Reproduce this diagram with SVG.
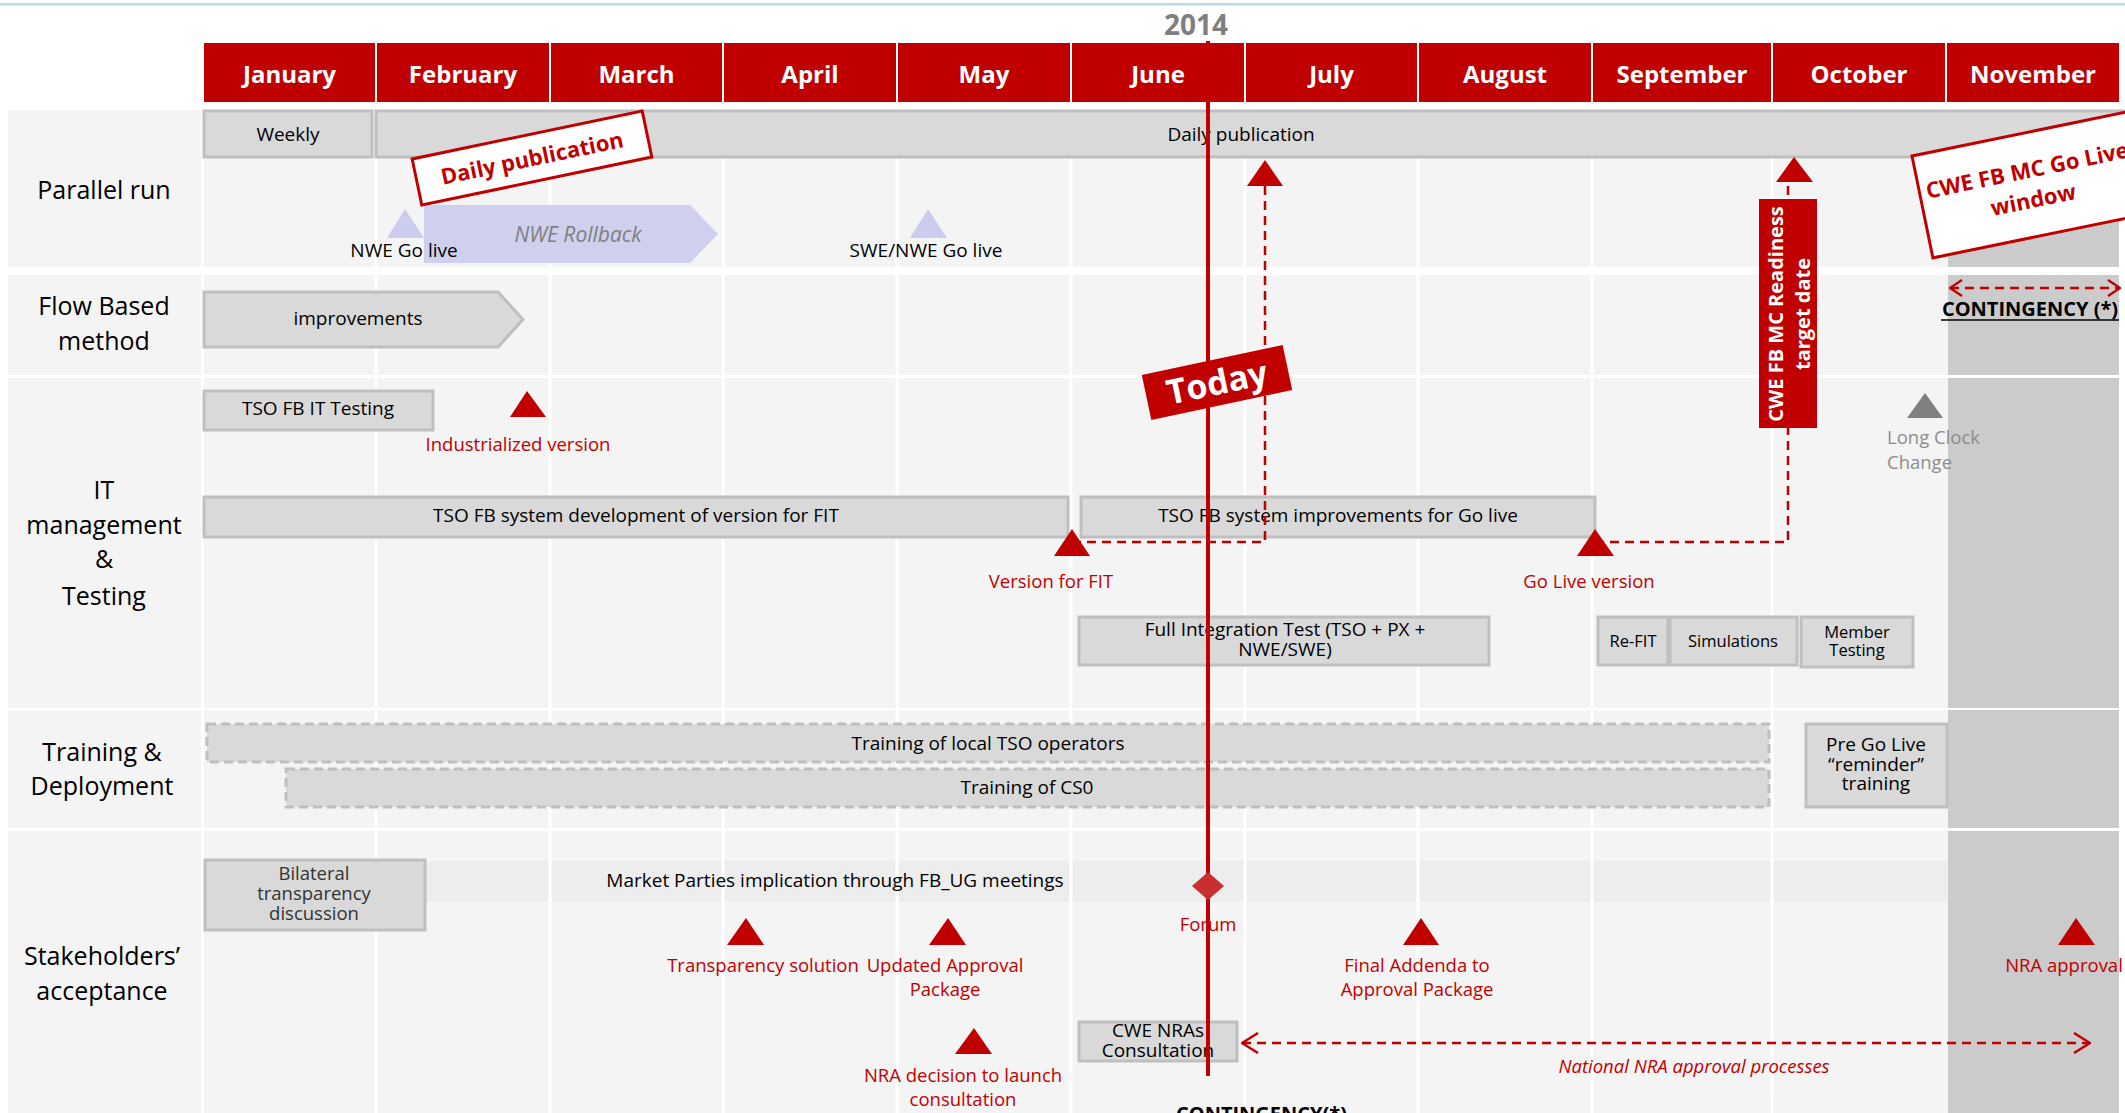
<svg xmlns="http://www.w3.org/2000/svg" width="2125" height="1113" viewBox="0 0 2125 1113">
  <defs>
    <style>
      text { font-family: "Open Sans", "Liberation Sans", sans-serif; }
      .month { fill: #c00000; }
      .mtxt { fill: #ffffff; font-size: 24px; font-weight: 700; text-anchor: middle; }
      .row { fill: #f4f4f4; }
      .grid { stroke: #ffffff; stroke-width: 3; }
      .cont { fill: #cbcbcb; }
      .lbl { font-size: 25px; fill: #000000; text-anchor: middle; }
      .bar { fill: #d9d9d9; stroke: #bfbfbf; stroke-width: 3; }
      .dbar { fill: #d9d9d9; stroke: #bfbfbf; stroke-width: 3; stroke-dasharray: 9 5; }
      .t { font-size: 19px; fill: #000000; text-anchor: middle; }
      .tg { font-size: 18.5px; fill: #333333; text-anchor: middle; }
      .ts { font-size: 16.5px; fill: #000000; text-anchor: middle; }
      .rt { font-size: 18.5px; fill: #c00000; text-anchor: middle; }
      .ms { fill: #c00000; }
      .lav { fill: #ccccee; }
      .dash { fill: none; stroke: #c00000; stroke-width: 2.5; stroke-dasharray: 9 6; }
      .callout { fill: #ffffff; stroke: #c00000; stroke-width: 3; }
      .ctxt { fill: #c00000; font-size: 22px; font-weight: 700; text-anchor: middle; }
      .bold { font-size: 20px; font-weight: 700; fill: #000000; text-anchor: middle; }
    </style>
    <marker id="chev" viewBox="0 0 18 22" refX="17" refY="11" markerWidth="18" markerHeight="22" markerUnits="userSpaceOnUse" orient="auto-start-reverse">
      <path d="M1,1 L17,11 L1,21" fill="none" stroke="#c00000" stroke-width="2.5"/>
    </marker>
    <marker id="chev-s" viewBox="0 0 14 18" refX="13" refY="9" markerWidth="14" markerHeight="18" markerUnits="userSpaceOnUse" orient="auto-start-reverse">
      <path d="M1,1 L13,9 L1,17" fill="none" stroke="#c00000" stroke-width="2.2"/>
    </marker>
  </defs>

  <rect width="2125" height="1113" fill="#ffffff"/>
  <rect x="0" y="3" width="2125" height="2.5" fill="#bcdde3"/>

  <!-- year and month header -->
  <g id="header">
    <text x="1196" y="35" font-size="28" font-weight="700" fill="#7f7f7f" text-anchor="middle">2014</text>
    <rect class="month" x="204" y="43" width="171" height="59"/>
    <rect class="month" x="377" y="43" width="172" height="59"/>
    <rect class="month" x="551" y="43" width="171" height="59"/>
    <rect class="month" x="724" y="43" width="172" height="59"/>
    <rect class="month" x="898" y="43" width="172" height="59"/>
    <rect class="month" x="1072" y="43" width="172" height="59"/>
    <rect class="month" x="1246" y="43" width="171" height="59"/>
    <rect class="month" x="1419" y="43" width="172" height="59"/>
    <rect class="month" x="1593" y="43" width="178" height="59"/>
    <rect class="month" x="1773" y="43" width="172" height="59"/>
    <rect class="month" x="1947" y="43" width="172" height="59"/>
    <text class="mtxt" x="289.5" y="82.5">January</text>
    <text class="mtxt" x="463" y="82.5">February</text>
    <text class="mtxt" x="636.5" y="82.5">March</text>
    <text class="mtxt" x="810" y="82.5">April</text>
    <text class="mtxt" x="984" y="82.5">May</text>
    <text class="mtxt" x="1158" y="82.5">June</text>
    <text class="mtxt" x="1331.5" y="82.5">July</text>
    <text class="mtxt" x="1505" y="82.5">August</text>
    <text class="mtxt" x="1682" y="82.5">September</text>
    <text class="mtxt" x="1859" y="82.5">October</text>
    <text class="mtxt" x="2033" y="82.5">November</text>
  </g>

  <!-- swimlane backgrounds -->
  <g id="lanes">
    <rect class="row" x="8" y="110" width="2111" height="157"/>
    <rect class="row" x="8" y="275" width="2111" height="100"/>
    <rect class="row" x="8" y="378" width="2111" height="330"/>
    <rect class="row" x="8" y="710" width="2111" height="118"/>
    <rect class="row" x="8" y="831" width="2111" height="282"/>
    <rect x="204" y="861" width="1743" height="41" fill="#ededed"/>
    <rect class="cont" x="1948" y="110" width="171" height="157"/>
    <rect class="cont" x="1948" y="275" width="171" height="100"/>
    <rect class="cont" x="1948" y="378" width="171" height="330"/>
    <rect class="cont" x="1948" y="710" width="171" height="118"/>
    <rect class="cont" x="1948" y="831" width="171" height="282"/>
    <g class="grid">
      <line x1="202.5" y1="110" x2="202.5" y2="1113"/>
      <line x1="376" y1="110" x2="376" y2="1113"/>
      <line x1="550" y1="110" x2="550" y2="1113"/>
      <line x1="723" y1="110" x2="723" y2="1113"/>
      <line x1="897" y1="110" x2="897" y2="1113"/>
      <line x1="1071" y1="110" x2="1071" y2="1113"/>
      <line x1="1245" y1="110" x2="1245" y2="1113"/>
      <line x1="1418" y1="110" x2="1418" y2="1113"/>
      <line x1="1592" y1="110" x2="1592" y2="1113"/>
      <line x1="1772" y1="110" x2="1772" y2="1113"/>
    </g>
  </g>

  <!-- lane titles -->
  <g id="lane-labels">
    <text class="lbl" x="104" y="199">Parallel run</text>
    <text class="lbl" x="104" y="314.5">Flow Based</text>
    <text class="lbl" x="104" y="350">method</text>
    <text class="lbl" x="104" y="499">IT</text>
    <text class="lbl" x="104" y="534">management</text>
    <text class="lbl" x="104" y="568">&amp;</text>
    <text class="lbl" x="104" y="605">Testing</text>
    <text class="lbl" x="102" y="760.5">Training &amp;</text>
    <text class="lbl" x="102" y="795">Deployment</text>
    <text class="lbl" x="102" y="965">Stakeholders’</text>
    <text class="lbl" x="102" y="1000">acceptance</text>
  </g>

  <!-- Parallel run -->
  <g id="weekly">
    <rect class="bar" x="204" y="111" width="168" height="46"/>
    <text class="t" x="288" y="141">Weekly</text>
  </g>
  <g id="daily-publication-bar">
    <rect class="bar" x="376" y="111" width="1760" height="46"/>
    <text class="t" x="1241" y="141" font-size="21">Daily publication</text>
  </g>
  <g id="nwe-rollback">
    <polygon points="424,205 690,205 718,234 690,263 424,263" fill="#cfcfee"/>
    <text x="578" y="242" font-size="21" font-style="italic" fill="#7f7f7f" text-anchor="middle">NWE Rollback</text>
  </g>
  <g id="nwe-go-live">
    <polygon class="lav" points="405,209 387,238 424,238"/>
    <text class="t" x="404" y="257">NWE Go live</text>
  </g>
  <g id="swe-nwe-go-live">
    <polygon class="lav" points="928,209 910,238 947,238"/>
    <text class="t" x="926" y="257">SWE/NWE Go live</text>
  </g>

  <!-- Flow Based method -->
  <g id="improvements">
    <polygon class="bar" points="204,292 498,292 523,319.5 498,347 204,347"/>
    <text class="t" x="358" y="325">improvements</text>
  </g>
  <g id="contingency-top">
    <text class="bold" x="2030" y="315.5">CONTINGENCY (*)</text>
    <line x1="1941" y1="320" x2="2119" y2="320" stroke="#000000" stroke-width="1.5"/>
  </g>

  <!-- IT management & Testing -->
  <g id="tso-fb-it-testing">
    <rect class="bar" x="204" y="391" width="229" height="39"/>
    <text class="t" x="318" y="415">TSO FB IT Testing</text>
  </g>
  <g id="industrialized-version">
    <text class="rt" x="518" y="450.5">Industrialized version</text>
  </g>
  <g id="tso-fb-system-dev">
    <rect class="bar" x="204" y="497" width="864" height="40"/>
    <text class="t" x="636" y="521.5">TSO FB system development of version for FIT</text>
  </g>
  <g id="tso-fb-system-improvements">
    <rect class="bar" x="1081" y="497" width="514" height="40"/>
    <text class="t" x="1338" y="521.5">TSO FB system improvements for Go live</text>
  </g>
  <g id="version-for-fit">
    <text class="rt" x="1051" y="588">Version for FIT</text>
  </g>
  <g id="go-live-version">
    <text class="rt" x="1589" y="588">Go Live version</text>
  </g>
  <g id="full-integration-test">
    <rect class="bar" x="1079" y="617" width="410" height="48"/>
    <text class="t" x="1285" y="636" font-size="18.5">Full Integration Test (TSO + PX +</text>
    <text class="t" x="1285" y="656" font-size="18.5">NWE/SWE)</text>
  </g>
  <g id="re-fit">
    <rect class="bar" x="1598" y="617" width="70" height="48"/>
    <text class="ts" x="1633" y="646.5">Re-FIT</text>
  </g>
  <g id="simulations">
    <rect class="bar" x="1670" y="617" width="127" height="48"/>
    <text class="ts" x="1733" y="646.5">Simulations</text>
  </g>
  <g id="member-testing">
    <rect class="bar" x="1801" y="617" width="112" height="50"/>
    <text class="ts" x="1857" y="638">Member</text>
    <text class="ts" x="1857" y="656">Testing</text>
  </g>
  <g id="long-clock-change">
    <polygon points="1925,393 1907,418 1943,418" fill="#808080"/>
    <text x="1887" y="443.5" font-size="18.5" fill="#8c8c8c">Long Clock</text>
    <text x="1887" y="468.5" font-size="18.5" fill="#8c8c8c">Change</text>
  </g>

  <!-- Training & Deployment -->
  <g id="training-tso-operators">
    <rect class="dbar" x="207" y="724" width="1562" height="38"/>
    <text class="t" x="988" y="749.5">Training of local TSO operators</text>
  </g>
  <g id="training-cso">
    <rect class="dbar" x="286" y="769" width="1483" height="38"/>
    <text class="t" x="1027" y="793.5">Training of CS0</text>
  </g>
  <g id="pre-go-live-training">
    <rect class="bar" x="1806" y="724" width="141" height="83"/>
    <text class="t" x="1876" y="751" font-size="18.5">Pre Go Live</text>
    <text class="t" x="1876" y="770.5" font-size="18.5">“reminder”</text>
    <text class="t" x="1876" y="790" font-size="18.5">training</text>
  </g>

  <!-- Stakeholders' acceptance -->
  <g id="market-parties">
    <text class="t" x="835" y="886.5">Market Parties implication through FB_UG meetings</text>
  </g>
  <g id="bilateral-transparency">
    <rect class="bar" x="205" y="860" width="220" height="70"/>
    <text class="tg" x="314" y="880">Bilateral</text>
    <text class="tg" x="314" y="900">transparency</text>
    <text class="tg" x="314" y="920">discussion</text>
  </g>
  <g id="transparency-solution">
    <polygon class="ms" points="746,918 727,945 764,945"/>
    <text class="rt" x="763" y="971.5">Transparency solution</text>
  </g>
  <g id="updated-approval-package">
    <polygon class="ms" points="948,918 929,945 966,945"/>
    <text class="rt" x="945" y="971.5">Updated Approval</text>
    <text class="rt" x="945" y="996">Package</text>
  </g>
  <g id="nra-decision">
    <polygon class="ms" points="974,1028 955,1054 992,1054"/>
    <text class="rt" x="963" y="1081.5">NRA decision to launch</text>
    <text class="rt" x="963" y="1106">consultation</text>
  </g>
  <g id="final-addenda">
    <polygon class="ms" points="1421,918 1403,945 1439,945"/>
    <text class="rt" x="1417" y="971.5">Final Addenda to</text>
    <text class="rt" x="1417" y="996">Approval Package</text>
  </g>
  <g id="nra-approval">
    <polygon class="ms" points="2076,918 2058,945 2095,945"/>
    <text class="rt" x="2064" y="971.5">NRA approval</text>
  </g>
  <g id="cwe-nras-consultation">
    <rect class="bar" x="1079" y="1022" width="158" height="39"/>
    <text class="t" x="1158" y="1037" font-size="18.5">CWE NRAs</text>
    <text class="t" x="1158" y="1057" font-size="18.5">Consultation</text>
  </g>
  <g id="national-nra-label">
    <text x="1694" y="1072.5" font-size="18.5" font-style="italic" fill="#c00000" text-anchor="middle">National NRA approval processes</text>
  </g>
  <g id="contingency-bottom">
    <text class="bold" x="1261.5" y="1121">CONTINGENCY(*)</text>
  </g>

  <!-- connectors -->
  <g id="connectors">
    <path class="dash" d="M1072,542 H1265 V186"/>
    <path class="dash" d="M1595,542 H1788 V182"/>
    <line class="dash" x1="1950" y1="288" x2="2120" y2="288" marker-start="url(#chev-s)" marker-end="url(#chev-s)"/>
    <line class="dash" x1="1242" y1="1043" x2="2090" y2="1043" marker-start="url(#chev)" marker-end="url(#chev)"/>
  </g>

  <!-- today marker line -->
  <g id="today-line">
    <line x1="1208" y1="41" x2="1208" y2="1076" stroke="#c00000" stroke-width="4"/>
  </g>

  <!-- milestones -->
  <g id="july-milestone"><polygon class="ms" points="1265,160 1247,186 1283,186"/></g>
  <g id="october-milestone"><polygon class="ms" points="1794,157 1776,182 1813,182"/></g>
  <g id="industrialized-milestone"><polygon class="ms" points="527,391 510,417 546,417"/></g>
  <g id="version-for-fit-milestone"><polygon class="ms" points="1072,529 1054,556 1090,556"/></g>
  <g id="go-live-milestone"><polygon class="ms" points="1595,529 1577,556 1614,556"/></g>
  <g id="forum">
    <polygon points="1208,872 1224,886 1208,900 1192,886" fill="#c83030"/>
    <text class="rt" x="1208" y="931">Forum</text>
  </g>

  <!-- callouts -->
  <g id="daily-publication-callout" transform="translate(532,158) rotate(-11.8)">
    <rect class="callout" x="-117.5" y="-23.5" width="235" height="47"/>
    <text class="ctxt" x="0" y="8">Daily publication</text>
  </g>
  <g id="today" transform="translate(1217,382.5) rotate(-12)">
    <rect x="-72" y="-23" width="144" height="46" fill="#c00000"/>
    <text x="0" y="12" font-size="34" font-weight="700" fill="#ffffff" text-anchor="middle">Today</text>
  </g>
  <g id="readiness-target-date">
    <rect x="1759" y="199" width="58" height="229" fill="#c00000"/>
    <g transform="translate(1788,314) rotate(-90)">
      <text x="0" y="-5" font-size="20" font-weight="700" fill="#ffffff" text-anchor="middle">CWE FB MC Readiness</text>
      <text x="0" y="22" font-size="20" font-weight="700" fill="#ffffff" text-anchor="middle">target date</text>
    </g>
  </g>
  <g id="go-live-window" transform="translate(1912,156) rotate(-11.6)">
    <rect class="callout" x="0" y="0" width="230" height="104"/>
    <text class="ctxt" x="110" y="45" font-size="23">CWE FB MC Go Live</text>
    <text class="ctxt" x="110" y="75" font-size="23">window</text>
  </g>
</svg>
